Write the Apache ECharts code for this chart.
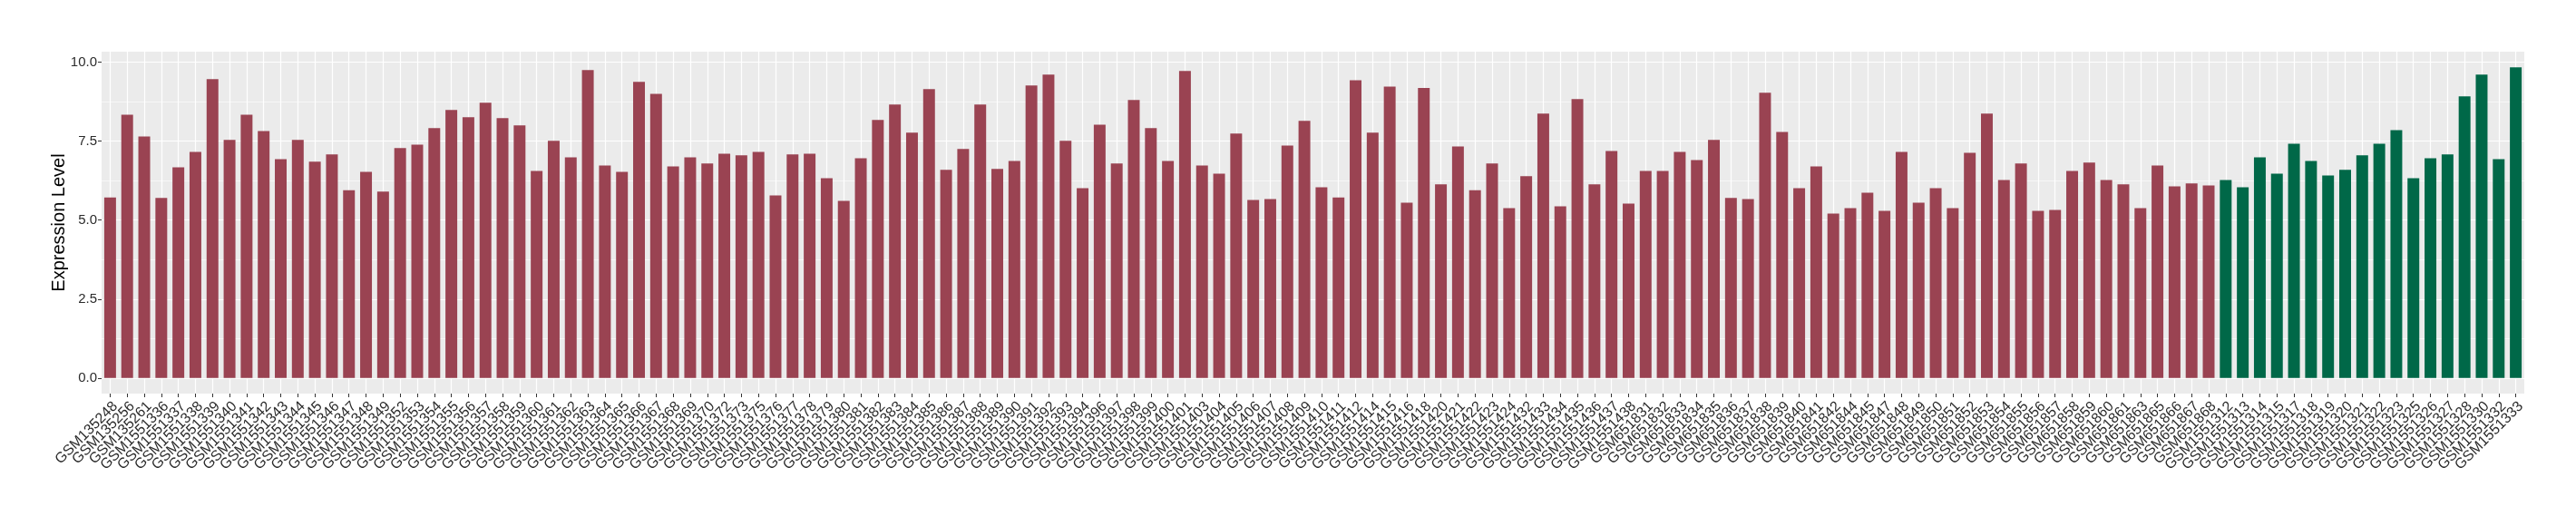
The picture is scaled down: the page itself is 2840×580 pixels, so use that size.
<!DOCTYPE html>
<html>
<head>
<meta charset="utf-8">
<script src="https://cdn.jsdelivr.net/npm/echarts@6/dist/echarts.min.js"></script>
<style>
html,body{margin:0;padding:0;background:#fff;}
#chart{width:2840px;height:580px;}
</style>
</head>
<body>
<div id="chart"></div>
<script>
// ---- data ----
const redCategories = [
  'GSM135248','GSM135256','GSM135261','GSM1551336','GSM1551337','GSM1551338','GSM1551339','GSM1551340','GSM1551341','GSM1551342',
  'GSM1551343','GSM1551344','GSM1551345','GSM1551346','GSM1551347','GSM1551348','GSM1551349','GSM1551352','GSM1551353','GSM1551354',
  'GSM1551355','GSM1551356','GSM1551357','GSM1551358','GSM1551359','GSM1551360','GSM1551361','GSM1551362','GSM1551363','GSM1551364',
  'GSM1551365','GSM1551366','GSM1551367','GSM1551368','GSM1551369','GSM1551370','GSM1551372','GSM1551373','GSM1551375','GSM1551376',
  'GSM1551377','GSM1551378','GSM1551379','GSM1551380','GSM1551381','GSM1551382','GSM1551383','GSM1551384','GSM1551385','GSM1551386',
  'GSM1551387','GSM1551388','GSM1551389','GSM1551390','GSM1551391','GSM1551392','GSM1551393','GSM1551394','GSM1551396','GSM1551397',
  'GSM1551398','GSM1551399','GSM1551400','GSM1551401','GSM1551403','GSM1551404','GSM1551405','GSM1551406','GSM1551407','GSM1551408',
  'GSM1551409','GSM1551410','GSM1551411','GSM1551412','GSM1551414','GSM1551415','GSM1551416','GSM1551418','GSM1551420','GSM1551421',
  'GSM1551422','GSM1551423','GSM1551424','GSM1551432','GSM1551433','GSM1551434','GSM1551435','GSM1551436','GSM1551437','GSM1551438',
  'GSM651831','GSM651832','GSM651833','GSM651834','GSM651835','GSM651836','GSM651837','GSM651838','GSM651839','GSM651840',
  'GSM651841','GSM651842','GSM651844','GSM651845','GSM651847','GSM651848','GSM651849','GSM651850','GSM651851','GSM651852',
  'GSM651853','GSM651854','GSM651855','GSM651856','GSM651857','GSM651858','GSM651859','GSM651860','GSM651861','GSM651863',
  'GSM651865','GSM651866','GSM651867','GSM651868'
];
const redValues = [
  5.72,8.34,7.65,5.70,6.67,7.16,9.46,7.54,8.34,7.82,
  6.93,7.54,6.85,7.08,5.95,6.53,5.90,7.28,7.39,7.91,
  8.49,8.26,8.72,8.23,8.00,6.56,7.51,6.99,9.75,6.73,
  6.53,9.38,9.00,6.70,6.99,6.79,7.10,7.05,7.16,5.78,
  7.08,7.10,6.33,5.61,6.96,8.17,8.66,7.77,9.15,6.59,
  7.25,8.66,6.62,6.87,9.26,9.61,7.51,6.01,8.02,6.79,
  8.80,7.91,6.87,9.72,6.73,6.47,7.74,5.64,5.67,7.36,
  8.14,6.04,5.72,9.43,7.77,9.23,5.55,9.18,6.13,7.33,
  5.95,6.79,5.38,6.39,8.37,5.44,8.83,6.13,7.19,5.52,
  6.56,6.56,7.16,6.90,7.54,5.70,5.67,9.03,7.79,6.01,
  6.70,5.21,5.38,5.87,5.29,7.16,5.55,6.01,5.38,7.13,
  8.37,6.27,6.79,5.29,5.32,6.56,6.82,6.27,6.13,5.38,
  6.73,6.07,6.16,6.10
];
const greenCategories = [
  'GSM1551312','GSM1551313','GSM1551314','GSM1551315','GSM1551317','GSM1551318','GSM1551319','GSM1551320','GSM1551321','GSM1551322',
  'GSM1551323','GSM1551325','GSM1551326','GSM1551327','GSM1551328','GSM1551330','GSM1551332','GSM1551333'
];
const greenValues = [
  6.27,6.04,6.99,6.47,7.42,6.87,6.41,6.59,7.05,7.42,
  7.85,6.33,6.96,7.08,8.92,9.61,6.93,9.84
];
const yTickValues = [0, 2.5, 5, 7.5, 10];
const yMinorValues = [1.25, 3.75, 6.25, 8.75];

// ---- build ----
const RED = '#9A4352', GREEN = '#006848';
const categories = redCategories.concat(greenCategories);
const barData = redValues.map(v => ({value: v, itemStyle: {color: RED}}))
  .concat(greenValues.map(v => ({value: v, itemStyle: {color: GREEN}})));
const yMin = -0.492, yMax = 10.332;

const gridLines = [];
yTickValues.forEach(v => gridLines.push({yAxis: v, lineStyle: {color: '#ffffff', width: 1.2, type: 'solid'}}));
yMinorValues.forEach(v => gridLines.push({yAxis: v, lineStyle: {color: '#ffffff', width: 0.6, type: 'solid'}}));
categories.forEach((c, i) => gridLines.push({xAxis: i, lineStyle: {color: '#ffffff', width: 1.2, type: 'solid'}}));

const FONT = '"Liberation Sans", Arial, Helvetica, sans-serif';
const chart = echarts.init(document.getElementById('chart'), null, {renderer: 'canvas'});
chart.setOption({
  animation: false,
  backgroundColor: '#ffffff',
  grid: {left: 112, top: 57, width: 2671, height: 377, show: true, backgroundColor: '#EBEBEB', borderWidth: 0},
  xAxis: {
    type: 'category',
    data: categories,
    boundaryGap: true,
    axisLine: {show: false, onZero: false},
    axisTick: {show: true, alignWithLabel: true, length: 4, lineStyle: {color: '#333333', width: 1}},
    axisLabel: {interval: 0, rotate: 45, align: 'right', verticalAlign: 'top', margin: 6,
      fontSize: 16, color: '#2b2b2b', fontFamily: FONT},
    splitLine: {show: false}
  },
  yAxis: {
    type: 'value',
    min: yMin, max: yMax,
    name: 'Expression Level',
    nameLocation: 'middle',
    nameGap: 37,
    nameMoveOverlap: false,
    nameTextStyle: {fontSize: 20, color: '#000000', fontFamily: FONT},
    axisLine: {show: false},
    axisTick: {show: true, length: 4, customValues: yTickValues, lineStyle: {color: '#333333', width: 1}},
    axisLabel: {customValues: yTickValues, margin: 5, fontSize: 15, color: '#2b2b2b', fontFamily: FONT,
      formatter: v => Number(v).toFixed(1)},
    splitLine: {show: false}
  },
  series: [
    {
      type: 'line', data: [], z: 1, silent: true,
      markLine: {silent: true, z: 1, symbol: ['none', 'none'], label: {show: false}, animation: false,
        emphasis: {disabled: true}, data: gridLines}
    },
    {
      type: 'bar', data: barData, barWidth: '69%', z: 3, silent: true
    }
  ]
});
</script>
</body>
</html>
